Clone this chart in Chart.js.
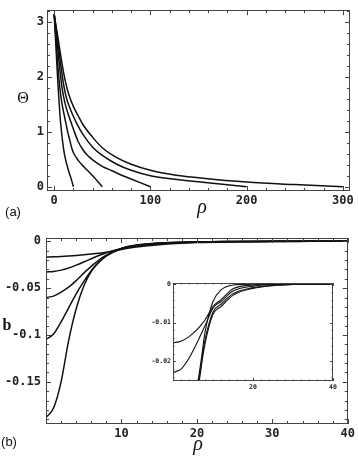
<!DOCTYPE html>
<html>
<head>
<meta charset="utf-8">
<script src="https://cdn.jsdelivr.net/npm/chart.js@4/dist/chart.umd.min.js"></script>
<style>
    body { margin: 0; background: #fff; }
    #wrap { position: relative; width: 358px; height: 456px; overflow: hidden; }
    canvas { position: absolute; }
    .lbl { position: absolute; transform: translate(-50%, -50%); color: #111; white-space: nowrap; line-height: 1; }
    .serif { font-family: 'Liberation Serif', 'DejaVu Serif', serif; }
    .sans { font-family: 'Liberation Sans', 'DejaVu Sans', sans-serif; }
</style>
</head>
<body>
<div id="wrap">
    <canvas id="chartA" width="358" height="225" style="left:0;top:0"></canvas>
    <canvas id="chartB" width="358" height="231" style="left:0;top:225px"></canvas>
    <canvas id="chartInset" width="210" height="122" style="left:145px;top:272px"></canvas>

    <div class="lbl serif" style="left:23px;top:98px;font-size:16px">Θ</div>
    <div class="lbl serif" style="left:202px;top:206px;font-size:20px;font-style:italic">ρ</div>
    <div class="lbl sans" style="left:13px;top:211px;font-size:13px">(a)</div>
    <div class="lbl serif" style="left:7px;top:325px;font-size:16px;font-weight:bold">b</div>
    <div class="lbl serif" style="left:198px;top:443px;font-size:20px;font-style:italic">ρ</div>
    <div class="lbl sans" style="left:9px;top:441px;font-size:13px">(b)</div>
</div>

<script>
// ---- panel (a): Theta(rho) for disks of radius 20, 50, 100, 200, 300
const rho20 = [0, 1, 2, 3, 4, 5, 6, 7, 8, 9, 10, 12, 14, 16, 18, 20];
const theta20 = [3.1416, 2.81, 2.48, 2.15, 1.84, 1.56, 1.3, 1.1, 0.93, 0.79, 0.66, 0.48, 0.35, 0.23, 0.12, 0];

const rho50 = [0, 2, 4, 6, 8, 10, 12, 14, 16, 18, 20, 25, 30, 35, 40, 45, 50];
const theta50 = [3.1416, 2.64, 2.16, 1.78, 1.52, 1.34, 1.17, 1.0, 0.86, 0.72, 0.62, 0.48, 0.38, 0.29, 0.2, 0.1, 0];

const rho100 = [0, 2, 4, 6, 8, 10, 12, 15, 18, 21, 25, 30, 35, 40, 50, 60, 70, 80, 90, 100];
const theta100 = [3.1416, 2.8, 2.46, 2.12, 1.82, 1.62, 1.47, 1.3, 1.15, 1.0, 0.82, 0.67, 0.565, 0.49, 0.37, 0.29, 0.21, 0.14, 0.07, 0];

const rho200 = [0, 2, 4, 6, 8, 10, 13, 16, 20, 25, 30, 40, 50, 65, 80, 100, 125, 150, 175, 200];
const theta200 = [3.1416, 2.87, 2.6, 2.33, 2.07, 1.84, 1.6, 1.45, 1.28, 1.1, 0.95, 0.72, 0.57, 0.41, 0.3, 0.2, 0.135, 0.09, 0.045, 0];

const rho300 = [0, 2, 4, 6, 8, 10, 12, 15, 20, 25, 30, 40, 50, 65, 80, 100, 125, 150, 200, 250, 300];
const theta300 = [3.1416, 2.92, 2.7, 2.48, 2.26, 2.06, 1.89, 1.69, 1.46, 1.29, 1.13, 0.9, 0.71, 0.53, 0.41, 0.3, 0.215, 0.165, 0.085, 0.038, 0];

const xTicksA = [0, 100, 200, 300];
const yTicksA = [0, 1, 2, 3];

// ---- panel (b): b(rho)
const rhoB = [0, 1, 2, 3, 4, 5, 6, 7, 8, 10, 12, 15, 20, 25, 30, 35, 40];
const bCurve1 = [-0.0167, -0.0166, -0.0163, -0.0158, -0.0152, -0.0145, -0.0137, -0.0128, -0.0117, -0.0088, -0.0062, -0.0036, -0.0014, -0.0006, -0.0003, -0.0001, 0];
const bCurve2 = [-0.0327, -0.0322, -0.0308, -0.0285, -0.0255, -0.0221, -0.0186, -0.0152, -0.0122, -0.0076, -0.0049, -0.0027, -0.0010, -0.0004, -0.0002, -0.0001, 0];
const bCurve3 = [-0.0600, -0.0585, -0.0543, -0.0490, -0.0420, -0.0340, -0.0268, -0.0200, -0.0148, -0.0076, -0.0043, -0.0021, -0.0008, -0.0003, -0.0001, 0, 0];
const bCurve4 = [-0.1046, -0.0990, -0.0860, -0.0710, -0.0560, -0.0430, -0.0315, -0.0222, -0.0156, -0.0076, -0.0040, -0.0018, -0.0006, -0.0002, -0.0001, 0, 0];
const bCurve5 = [-0.188, -0.178, -0.150, -0.106, -0.072, -0.048, -0.032, -0.0225, -0.0157, -0.0080, -0.0045, -0.0020, -0.0007, -0.0003, -0.0001, 0, 0];

const xTicksB = [10, 20, 30, 40];
const yTicksB = [0, -0.05, -0.1, -0.15];

// ---- inset of panel (b)
const rhoInset = [0, 2, 4, 6, 7, 8, 10, 12, 15, 20, 25, 30, 35, 40];
const insetA = [-0.0152, -0.0148, -0.0136, -0.0118, -0.0106, -0.0093, -0.0058, -0.0040, -0.0012, -0.0002, 0, 0, 0, 0];
const insetB = [-0.0229, -0.0220, -0.0192, -0.0152, -0.0130, -0.0108, -0.0062, -0.0045, -0.0018, -0.0005, -0.0001, 0, 0, 0];
const insetC = [-0.060, -0.055, -0.042, -0.027, -0.020, -0.0125, -0.0045, -0.0015, -0.0002, 0, 0, 0, 0, 0];
const insetD = [-0.105, -0.088, -0.055, -0.029, -0.021, -0.0145, -0.0072, -0.0052, -0.0025, -0.0009, -0.0003, -0.0001, 0, 0];
const insetE = [-0.190, -0.150, -0.070, -0.031, -0.022, -0.0155, -0.0078, -0.0058, -0.0029, -0.0011, -0.0004, -0.0001, 0, 0];

const xTicksInset = [20, 40];
const yTicksInset = [0, -0.01, -0.02];

// pair up x and y arrays into points
function pts(xs, ys) {
    return xs.map((x, i) => ({ x: x, y: ys[i] }));
}

function curve(xs, ys, width) {
    return {
        data: pts(xs, ys),
        borderColor: '#111',
        borderWidth: width,
        pointRadius: 0,
        fill: false,
        cubicInterpolationMode: 'monotone'
    };
}

// Mathematica style frame: box on all four sides with inward ticks
const frameTicks = {
    id: 'frameTicks',
    afterDatasetsDraw(chart, args, opts) {
        const ctx = chart.ctx;
        const a = chart.chartArea;
        const xs = chart.scales.x;
        const ys = chart.scales.y;
        ctx.save();
        ctx.strokeStyle = '#444';
        ctx.lineWidth = 1;
        ctx.strokeRect(Math.round(a.left) + 0.5, Math.round(a.top) + 0.5,
            Math.round(a.right - a.left) - 1, Math.round(a.bottom - a.top) - 1);

        ctx.beginPath();
        // x ticks, bottom and top
        let v = Math.ceil(xs.min / opts.xStep) * opts.xStep;
        for (; v <= xs.max + 1e-9; v += opts.xStep) {
            const major = opts.xMajor.some(m => Math.abs(m - v) < opts.xStep / 10);
            const len = major ? opts.major : opts.minor;
            const px = Math.round(xs.getPixelForValue(v)) + 0.5;
            ctx.moveTo(px, a.bottom);
            ctx.lineTo(px, a.bottom - len);
            ctx.moveTo(px, a.top);
            ctx.lineTo(px, a.top + len);
        }
        // y ticks, left and right
        v = Math.ceil(ys.min / opts.yStep) * opts.yStep;
        for (; v <= ys.max + 1e-12; v += opts.yStep) {
            const major = opts.yMajor.some(m => Math.abs(m - v) < opts.yStep / 10);
            const len = major ? opts.major : opts.minor;
            const py = Math.round(ys.getPixelForValue(v)) + 0.5;
            ctx.moveTo(a.left, py);
            ctx.lineTo(a.left + len, py);
            ctx.moveTo(a.right, py);
            ctx.lineTo(a.right - len, py);
        }
        ctx.stroke();
        ctx.restore();
    }
};

function makeChart(id, datasets, cfg) {
    const tickFont = { family: "'DejaVu Sans Mono', monospace", size: cfg.fontSize, weight: cfg.fontWeight };
    return new Chart(document.getElementById(id), {
        type: 'line',
        data: { datasets: datasets },
        options: {
            responsive: false,
            animation: false,
            events: [],
            layout: { padding: cfg.padding },
            plugins: {
                legend: { display: false },
                tooltip: { enabled: false },
                frameTicks: cfg.ticks
            },
            scales: {
                x: {
                    type: 'linear',
                    min: cfg.xMin,
                    max: cfg.xMax,
                    grid: { display: false, drawTicks: false, tickLength: 0 },
                    border: { display: false },
                    afterBuildTicks: (axis) => { axis.ticks = cfg.xTicks.map(t => ({ value: t })); },
                    afterFit: (axis) => { axis.height = cfg.xHeight; },
                    ticks: {
                        autoSkip: false,
                        maxRotation: 0,
                        padding: cfg.xPad,
                        color: '#222',
                        font: tickFont,
                        callback: (val) => String(val)
                    }
                },
                y: {
                    type: 'linear',
                    min: cfg.yMin,
                    max: cfg.yMax,
                    grid: { display: false, drawTicks: false, tickLength: 0 },
                    border: { display: false },
                    afterBuildTicks: (axis) => { axis.ticks = cfg.yTicks.map(t => ({ value: t })); },
                    afterFit: (axis) => { axis.width = cfg.yWidth; },
                    ticks: {
                        autoSkip: false,
                        padding: cfg.yPad,
                        color: '#222',
                        font: tickFont,
                        callback: (val) => String(val)
                    }
                }
            }
        },
        plugins: [frameTicks]
    });
}

// panel (a)
makeChart('chartA', [
    curve(rho20, theta20, 1.5),
    curve(rho50, theta50, 1.5),
    curve(rho100, theta100, 1.5),
    curve(rho200, theta200, 1.5),
    curve(rho300, theta300, 1.5)
], {
    padding: { left: 0, top: 4, right: 8, bottom: 0 },
    xMin: -7.5, xMax: 307.5, yMin: -0.0785, yMax: 3.22,
    xTicks: xTicksA, yTicks: yTicksA,
    xHeight: 34, yWidth: 47, xPad: 3, yPad: 3,
    fontSize: 12, fontWeight: 'bold',
    ticks: { xMajor: xTicksA, xStep: 20, yMajor: yTicksA, yStep: 0.2, major: 5, minor: 3 }
});

// panel (b)
makeChart('chartB', [
    curve(rhoB, bCurve1, 1.5),
    curve(rhoB, bCurve2, 1.5),
    curve(rhoB, bCurve3, 1.5),
    curve(rhoB, bCurve4, 1.5),
    curve(rhoB, bCurve5, 1.5)
], {
    padding: { left: 0, top: 13, right: 9, bottom: 0 },
    xMin: 0, xMax: 40, yMin: -0.195, yMax: 0.0035,
    xTicks: xTicksB, yTicks: yTicksB,
    xHeight: 32, yWidth: 46, xPad: 3, yPad: 5,
    fontSize: 12, fontWeight: 'bold',
    ticks: { xMajor: [0].concat(xTicksB), xStep: 2, yMajor: yTicksB, yStep: 0.01, major: 5, minor: 3 }
});

// inset
makeChart('chartInset', [
    curve(rhoInset, insetA, 1.1),
    curve(rhoInset, insetB, 1.1),
    curve(rhoInset, insetC, 1.1),
    curve(rhoInset, insetD, 1.1),
    curve(rhoInset, insetE, 1.1)
], {
    padding: { left: 0, top: 11, right: 22, bottom: 0 },
    xMin: 0, xMax: 40, yMin: -0.0251, yMax: 0.0003,
    xTicks: xTicksInset, yTicks: yTicksInset,
    xHeight: 13, yWidth: 28, xPad: 2, yPad: 2,
    fontSize: 6.5, fontWeight: 'bold',
    ticks: { xMajor: [0].concat(xTicksInset), xStep: 2, yMajor: yTicksInset, yStep: 0.002, major: 3, minor: 1.5 }
});
</script>
</body>
</html>
